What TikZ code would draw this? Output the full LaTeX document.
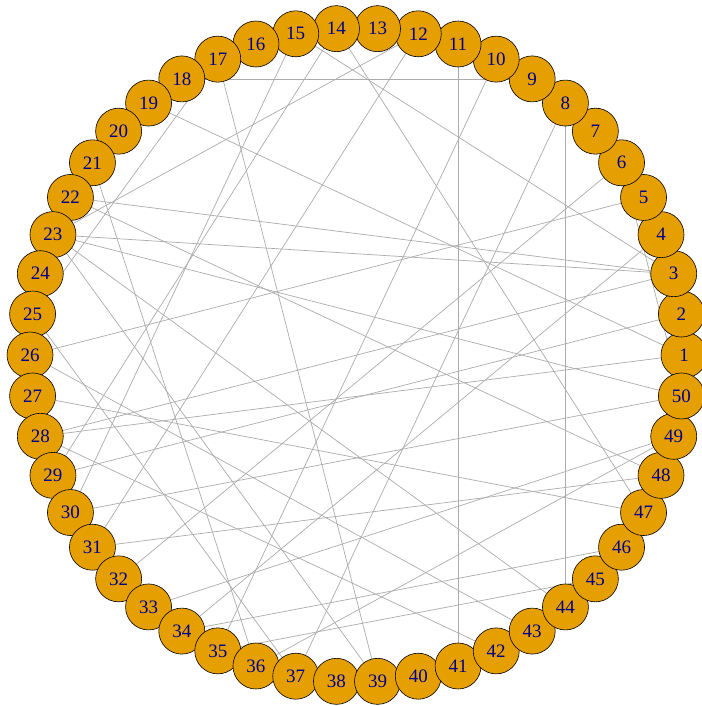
\documentclass[tikz,border=0pt]{standalone}
\usepackage{fontspec}
\setmainfont{Liberation Serif}
\usetikzlibrary{backgrounds}
\definecolor{vfill}{RGB}{230,159,0}
\definecolor{vlabel}{RGB}{0,0,139}
\colorlet{edgecol}{black!33}

\begin{document}
\begin{tikzpicture}[x=1pt, y=1pt,
  vtx/.style={circle, draw=black, line width=0.6pt, fill=vfill, text=vlabel,
    minimum size=46pt, inner sep=0pt, font=\fontsize{19}{19}\selectfont},
  edge/.style={draw=edgecol, line width=0.7pt}]
\useasboundingbox (0,0) rectangle (701,-706);
\begin{scope}[shift={(357,-355)}]
\foreach \i in {1,...,50}
  \node[vtx] (n\i) at ({(\i-1)*7.2}:327pt) {\i};
\end{scope}
\begin{pgfonlayer}{background}
\foreach \a/\b in {18/9, 11/41, 8/44, 17/39, 3/15, 14/47, 12/31, 10/35,
  8/37, 3/22, 1/19, 5/26, 6/50, 12/23, 6/32, 3/23, 4/34, 21/36, 15/30,
  17/25, 49/33, 49/36, 48/31, 48/22, 46/34, 23/44, 28/42, 28/1,
  28/3, 29/2, 30/50, 26/43, 23/50, 27/47, 29/14, 25/37, 23/39, 45/35}
  \draw[edge] (n\a) -- (n\b);
\end{pgfonlayer}
\end{tikzpicture}
\end{document}
